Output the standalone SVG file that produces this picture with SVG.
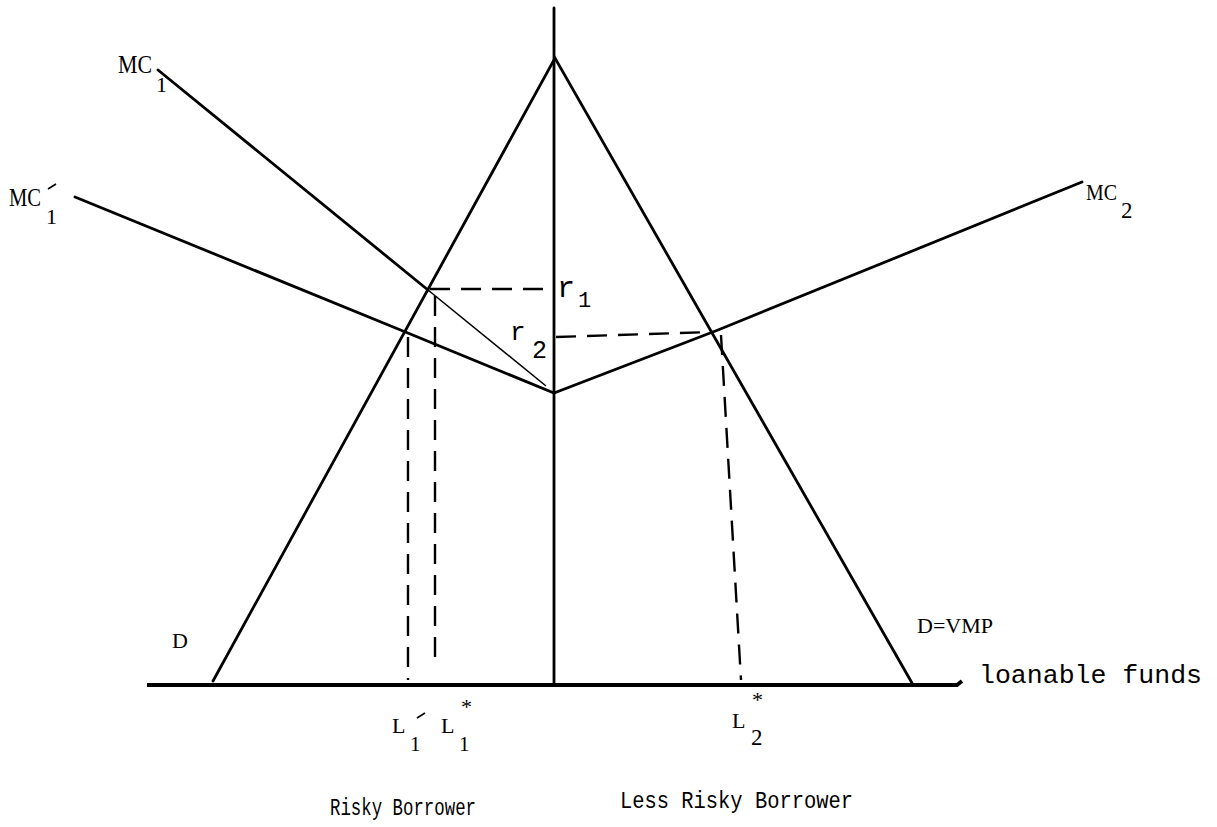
<svg xmlns="http://www.w3.org/2000/svg" width="1217" height="827" viewBox="0 0 1217 827">
<style>
.ln{stroke:#000;stroke-width:2.8;fill:none;stroke-linecap:round}
.thin{stroke:#000;stroke-width:1.6;fill:none}
.ax{stroke:#000;stroke-width:3.8;fill:none}
.ds{stroke:#000;stroke-width:2.4;fill:none;stroke-dasharray:20 11}
.t{font-family:"Liberation Mono","Courier New",monospace;fill:#000}
.s{font-family:"Liberation Serif","Times New Roman",serif;fill:#000}
</style>
<rect width="1217" height="827" fill="#fff"/>
<g id="connectors">
<path class="ax" d="M147,685 H957 L962,681"/>
<line class="ln" x1="554" y1="8" x2="554" y2="685"/>
<polyline class="ln" points="213,681 555,58 912,683"/>
<line class="ln" x1="158" y1="70" x2="428" y2="290"/>
<line class="thin" x1="428" y1="290" x2="546" y2="386"/>
<polyline class="ln" points="75,197 403,331 554,393 718,330 1082,182"/>
<line class="ds" x1="430" y1="289" x2="548" y2="289"/>
<line class="ds" x1="556" y1="337" x2="712" y2="332"/>
<line class="ds" x1="408" y1="337" x2="408" y2="680"/>
<line class="ds" x1="435" y1="296" x2="435" y2="666"/>
<line class="ds" x1="721" y1="335" x2="741" y2="680"/>
</g>
<g id="labels">
<text class="s" x="118" y="73" font-size="26" textLength="34" lengthAdjust="spacingAndGlyphs">MC</text>
<text class="s" x="156" y="92" font-size="22">1</text>
<text class="s" x="9" y="206" font-size="26" textLength="32" lengthAdjust="spacingAndGlyphs">MC</text>
<text class="s" x="46" y="224" font-size="22">1</text>
<line class="thin" x1="48" y1="189" x2="56" y2="184" stroke-width="2.2"/>
<text class="s" x="1086" y="200" font-size="24" textLength="31" lengthAdjust="spacingAndGlyphs">MC</text>
<text class="s" x="1121" y="218" font-size="23">2</text>
<text class="t" x="557" y="297" font-size="30">r</text>
<text class="t" x="578" y="307" font-size="22">1</text>
<text class="t" x="510" y="340" font-size="26">r</text>
<text class="t" x="532" y="358" font-size="25">2</text>
<text class="s" x="172" y="648" font-size="22">D</text>
<text class="s" x="917" y="633" font-size="20" textLength="76" lengthAdjust="spacingAndGlyphs">D=VMP</text>
<text class="t" x="979" y="683" font-size="25" textLength="223" lengthAdjust="spacingAndGlyphs">loanable funds</text>
<text class="s" x="392" y="733" font-size="22">L</text>
<text class="s" x="410" y="751" font-size="21">1</text>
<line class="thin" x1="417" y1="718" x2="425" y2="713" stroke-width="2.2"/>
<text class="s" x="441" y="733" font-size="22">L</text>
<text class="s" x="459" y="751" font-size="21">1</text>
<text class="s" x="461" y="714" font-size="22">*</text>
<text class="s" x="732" y="728" font-size="22">L</text>
<text class="s" x="751" y="745" font-size="23">2</text>
<text class="s" x="752" y="707" font-size="22">*</text>
<text class="t" x="330" y="815" font-size="24" textLength="146" lengthAdjust="spacingAndGlyphs">Risky Borrower</text>
<text class="t" x="620" y="808" font-size="24" textLength="233" lengthAdjust="spacingAndGlyphs">Less Risky Borrower</text>
</g>
</svg>
